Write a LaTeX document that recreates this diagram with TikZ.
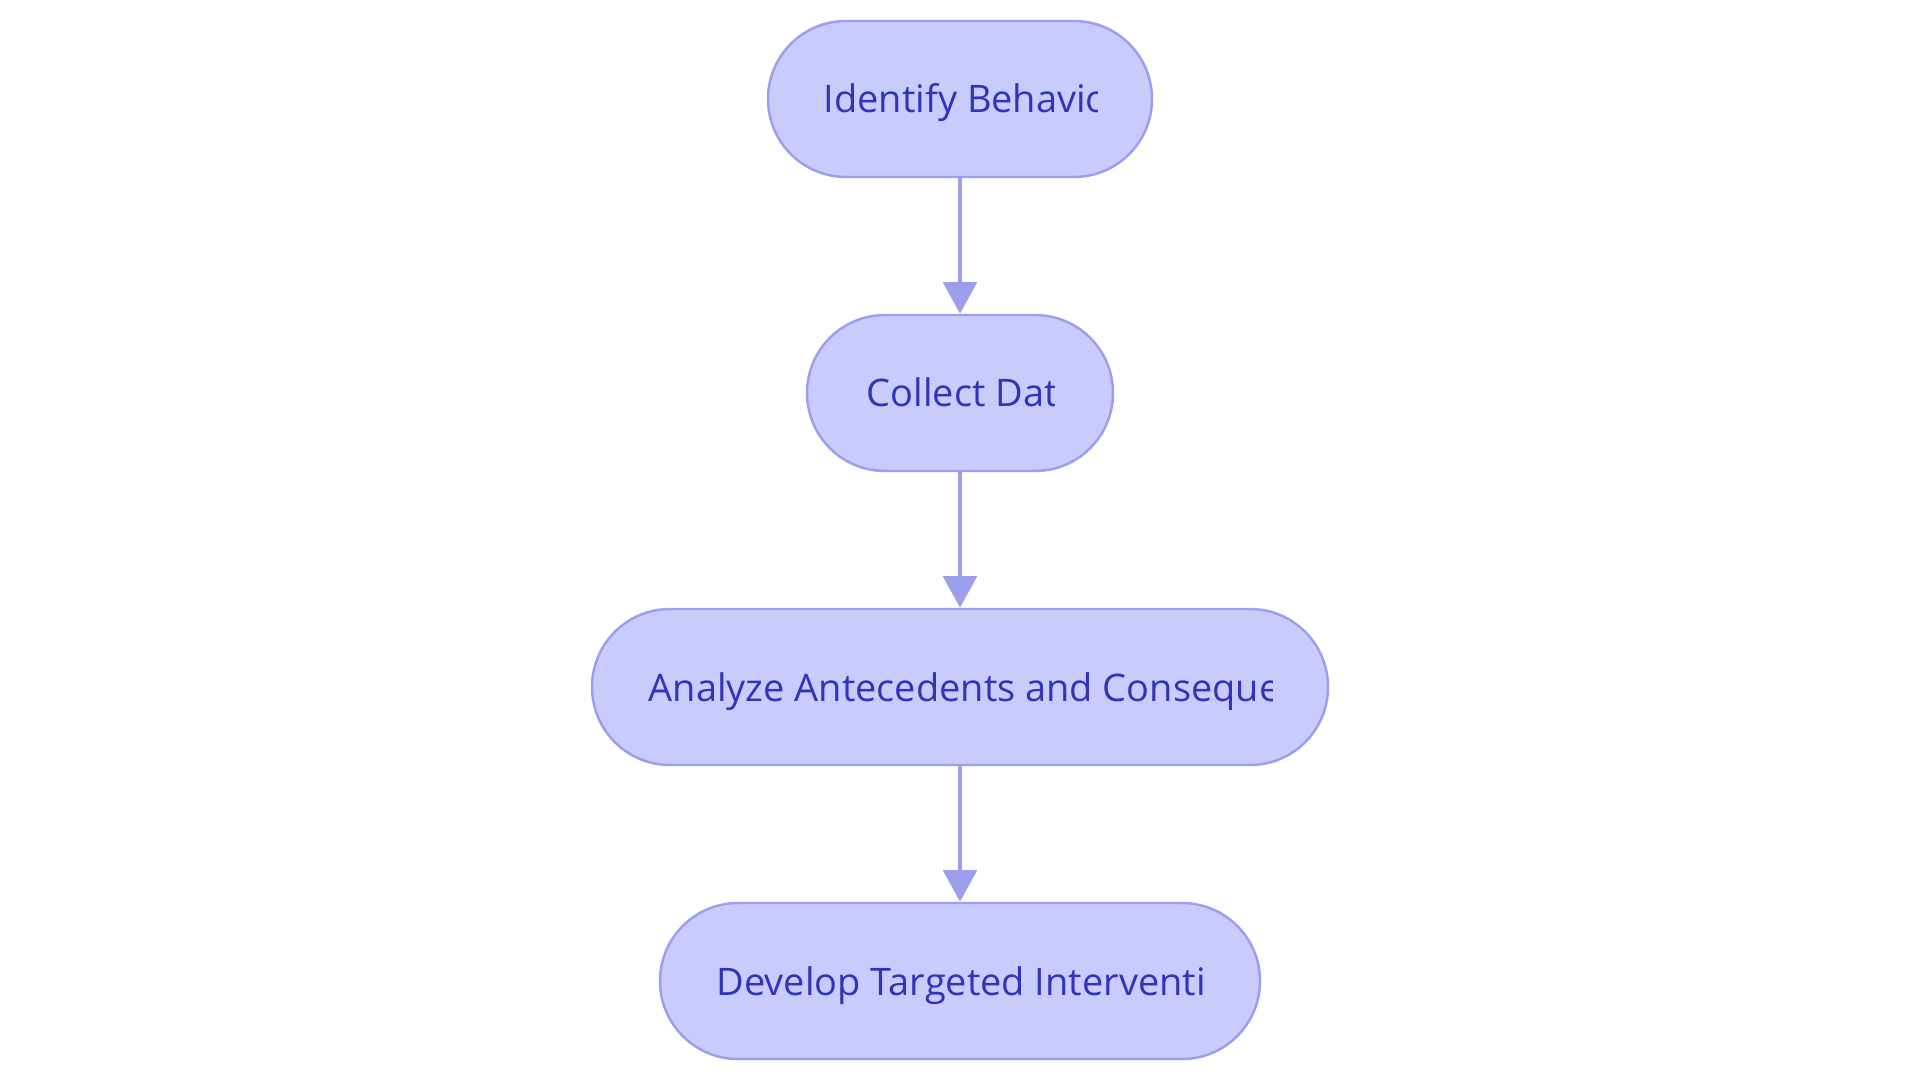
\documentclass[tikz,border=0pt]{standalone}
\usepackage{fontspec}
\setmainfont{Open Sans}
\usetikzlibrary{calc, arrows.meta, shapes.misc}

\definecolor{boxfill}{HTML}{C9CBFD}
\definecolor{boxline}{HTML}{9B9FEB}
\definecolor{boxtext}{HTML}{2F34B8}

\tikzset{
  stage/.style={rounded rectangle, draw=boxline, fill=boxfill, line width=0.7pt,
    minimum height=1.56cm, inner sep=0pt},
  stagetxt/.style={inner sep=0pt, text=boxtext, font=\fontsize{10.8}{13}\selectfont},
  flow/.style={draw=boxline, line width=1.3pt, -{Triangle[length=9pt, width=9.5pt]}}
}

% text is cut off at the right edge of its box
\newcommand{\stagetext}[3]{%
  \begin{scope}
    \clip ($(#1.center)+(-#2,-0.5)$) rectangle ($(#1.center)+(#2,0.5)$);
    \node[stagetxt, anchor=base west] (#1-t) at ($(#1.center)+(-#2,-0.14)$) {#3};
  \end{scope}}

\begin{document}
\begin{tikzpicture}
  \useasboundingbox (0,0) rectangle (19.2,-10.8);
  % four steps, one below the other
  \node[stage, minimum width=3.84cm] (identify) at (9.6,-0.99) {};
  \node[stage, minimum width=3.06cm] (collect) at (9.6,-3.93) {};
  \node[stage, minimum width=7.36cm] (analyze) at (9.6,-6.87) {};
  \node[stage, minimum width=6.00cm] (develop) at (9.6,-9.81) {};
  \stagetext{identify}{1.37}{Identify Behavior}
  \stagetext{collect}{0.94}{Collect Data}
  \stagetext{analyze}{3.12}{Analyze Antecedents and Consequences}
  \stagetext{develop}{2.44}{Develop Targeted Interventions}
  \draw[flow] (identify) -- (collect);
  \draw[flow] (collect) -- (analyze);
  \draw[flow] (analyze) -- (develop);
\end{tikzpicture}
\end{document}
